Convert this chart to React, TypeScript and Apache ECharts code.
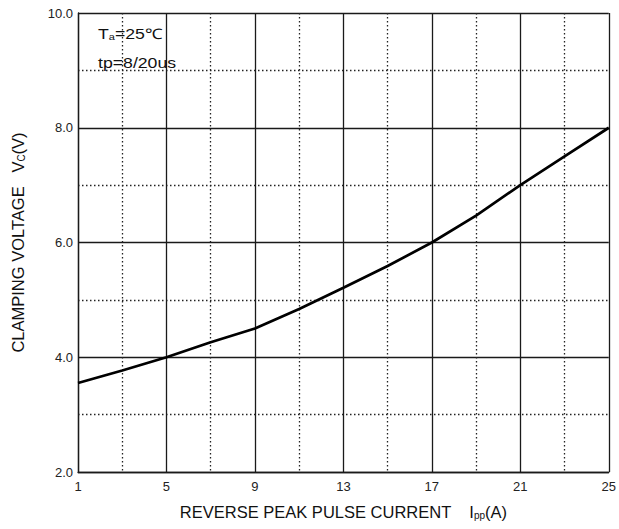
import React, { useEffect, useRef } from "react";
import * as echarts from "echarts";

// Reverse peak pulse current I_PP (A)
const currents = [1, 3, 5, 7, 9, 11, 13, 15, 17, 19, 21, 23, 25];
// Clamping voltage V_C (V)
const voltages = [3.55, 3.77, 4.0, 4.26, 4.5, 4.84, 5.21, 5.59, 6.0, 6.47, 7.0, 7.5, 8.0];
// Axis ranges / ticks
const xTickStart = 1;
const xTickEnd = 25;
const xTickStep = 4;
const yMin = 2;
const yMax = 10;
const yStep = 2;

const FONT = "'Liberation Sans', Arial, Helvetica, sans-serif";

export default function App() {
  const ref = useRef<HTMLDivElement>(null);

  useEffect(() => {
    if (!ref.current) return;
    const chart = echarts.init(ref.current, null, { renderer: "svg" });
    // x axis is offset so ticks start at 0 (1 A -> 0)
    const data = currents.map((c, i) => [c - xTickStart, voltages[i]]);
    const solid = { color: "#1a1a1a", width: 1.3, type: "solid" as const };
    const dotted = { color: "#222", width: 1.3, type: [1.5, 2.5] as any };
    const titleRich = {
      a: { fontFamily: FONT, fontSize: 16.5, color: "#111", lineHeight: 16 },
      s: { fontFamily: FONT, fontSize: 10, color: "#111", lineHeight: 6, verticalAlign: "bottom" },
    };
    chart.setOption({
      animation: false,
      backgroundColor: "#ffffff",
      grid: { left: 78, right: 5, top: 13, bottom: 57, containLabel: false },
      xAxis: {
        type: "value",
        min: 0,
        max: xTickEnd - xTickStart,
        interval: xTickStep,
        axisLine: { show: true, onZero: false, lineStyle: { color: "#1a1a1a", width: 1.3 } },
        axisTick: { show: false },
        minorTick: { show: false, splitNumber: 2 },
        splitLine: { show: true, lineStyle: solid },
        minorSplitLine: { show: true, lineStyle: dotted },
        axisLabel: {
          color: "#222",
          fontFamily: FONT,
          fontSize: 13,
          margin: 8,
          formatter: (v: number) => String(v + xTickStart),
        },
        name: "{a|REVERSE PEAK PULSE CURRENT    I}{s|pp}{a|(A)}",
        nameLocation: "middle",
        nameGap: 32,
        nameTextStyle: { rich: titleRich },
      },
      yAxis: {
        type: "value",
        min: yMin,
        max: yMax,
        interval: yStep,
        axisLine: { show: true, lineStyle: { color: "#1a1a1a", width: 1.3 } },
        axisTick: { show: false },
        minorTick: { show: false, splitNumber: 2 },
        splitLine: { show: true, lineStyle: solid },
        minorSplitLine: { show: true, lineStyle: dotted },
        axisLabel: {
          color: "#222",
          fontFamily: FONT,
          fontSize: 13,
          margin: 5,
          formatter: (v: number) => v.toFixed(1),
        },
        name: "{a|CLAMPING VOLTAGE   V}{s|C}{a|(V)}",
        nameLocation: "middle",
        nameRotate: 90,
        nameGap: 52,
        nameTextStyle: { rich: titleRich },
      },
      graphic: [
        {
          type: "text",
          x: 98,
          y: 27,
          scaleX: 1.22,
          style: {
            text: "{t|T}{s|a}{t|=25℃}",
            rich: {
              t: { fontFamily: FONT, fontSize: 14.5, fill: "#111", lineHeight: 14 },
              s: { fontFamily: FONT, fontSize: 9, fill: "#111", lineHeight: 4, verticalAlign: "bottom" },
            },
          },
          z: 10,
        },
        {
          type: "text",
          x: 98,
          y: 55,
          scaleX: 1.22,
          style: {
            text: "tp=8/20us",
            fontFamily: FONT,
            fontSize: 14.5,
            fill: "#111",
          },
          z: 10,
        },
      ],
      series: [
        {
          type: "line",
          data,
          showSymbol: false,
          symbol: "none",
          smooth: false,
          lineStyle: { color: "#000", width: 2.7 },
          z: 5,
        },
      ],
    });
    return () => chart.dispose();
  }, []);

  return (
    <div
      ref={ref}
      style={{ position: "fixed", left: 0, top: 0, width: 619, height: 529, background: "#fff" }}
    />
  );
}
